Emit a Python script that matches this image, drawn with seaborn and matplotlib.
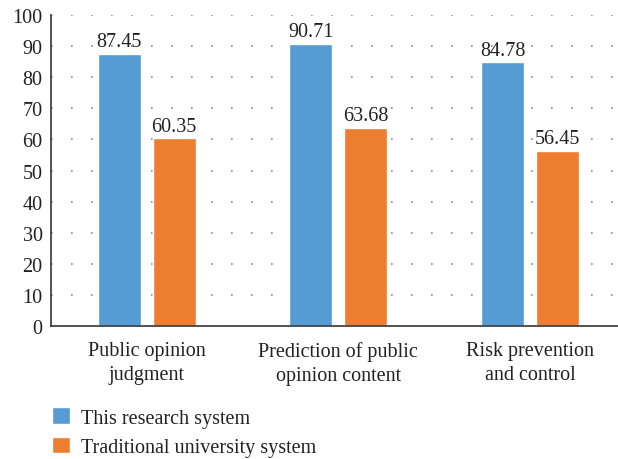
import matplotlib
matplotlib.use("Agg")
import matplotlib.pyplot as plt
import seaborn as sns
import pandas as pd
from matplotlib.patches import Patch

categories = ["Public opinion\njudgment", "Prediction of public\nopinion content", "Risk prevention\nand control"]
series_names = ["This research system", "Traditional university system"]
research_vals = [87.45, 90.71, 84.78]
traditional_vals = [60.35, 63.68, 56.45]
colors = ["#559BD4", "#ED7D31"]

df = pd.DataFrame({
    "category": categories * 2,
    "system": [series_names[0]] * 3 + [series_names[1]] * 3,
    "value": research_vals + traditional_vals,
})

sns.set_style("white")
plt.rcParams["font.family"] = ["Liberation Serif", "DejaVu Serif"]

FS = 14.5
fig = plt.figure(figsize=(6.18, 4.6), dpi=100)
ax = fig.add_axes([0.0825, 0.289, 0.9175, 0.676])

sns.barplot(data=df, x="category", y="value", hue="system", palette=colors,
            width=0.573, gap=0.22, ax=ax, legend=False, saturation=1)

for cont in ax.containers:
    ax.bar_label(cont, labels=[f"{v:.2f}" for v in cont.datavalues], padding=2,
                 fontsize=FS, color="#222222")

ax.set_ylim(0, 100)
ax.set_xlim(-0.5, 2.46)
ax.set_yticks(range(0, 101, 10))
ax.yaxis.grid(True, linestyle=(0, (1, 11)), color="#888888", linewidth=1.2)
ax.set_axisbelow(True)
ax.set_xlabel("")
ax.set_ylabel("")
ax.tick_params(axis="both", length=0, labelsize=FS, colors="#222222")
ax.tick_params(axis="y", pad=6)
ax.tick_params(axis="x", pad=11)
for lbl in ax.get_xticklabels():
    lbl.set_linespacing(1.35)
for s in ["top", "right"]:
    ax.spines[s].set_visible(False)
for s in ["left", "bottom"]:
    ax.spines[s].set_color("#444444")
    ax.spines[s].set_linewidth(1.3)

handles = [Patch(facecolor=c, label=n) for c, n in zip(colors, series_names)]
fig.legend(handles=handles, loc="lower left", bbox_to_anchor=(0.055, -0.035),
           frameon=False, fontsize=FS, handlelength=0.9, handleheight=0.9,
           handletextpad=0.55, labelspacing=0.45, labelcolor="#222222")

fig.savefig("out.png", dpi=100)
